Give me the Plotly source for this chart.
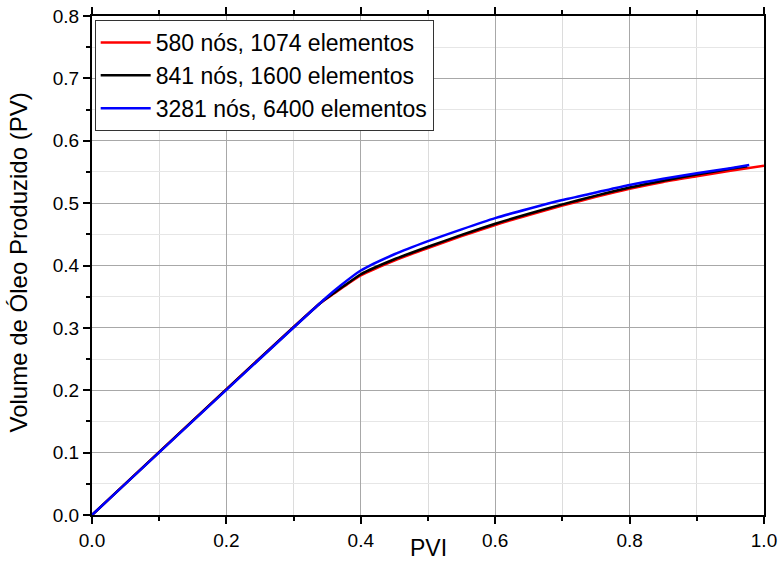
import plotly.graph_objects as go

# Oil recovery curves for three mesh refinements
pvi_580 = [0.0, 0.34, 0.36, 0.38, 0.40, 0.45, 0.50, 0.55, 0.60, 0.65, 0.70, 0.75, 0.80, 0.85, 0.90, 0.95, 1.00]
vol_580 = [0.0, 0.340, 0.355, 0.370, 0.384, 0.408, 0.428, 0.447, 0.465, 0.481, 0.496, 0.510, 0.523, 0.534, 0.543, 0.552, 0.560]

pvi_841 = [0.0, 0.34, 0.36, 0.38, 0.40, 0.45, 0.50, 0.55, 0.60, 0.65, 0.70, 0.75, 0.80, 0.85, 0.90, 0.95, 0.975]
vol_841 = [0.0, 0.340, 0.356, 0.371, 0.386, 0.410, 0.430, 0.449, 0.467, 0.483, 0.498, 0.512, 0.525, 0.536, 0.546, 0.555, 0.559]

pvi_3281 = [0.0, 0.35, 0.37, 0.40, 0.45, 0.50, 0.55, 0.60, 0.65, 0.70, 0.75, 0.80, 0.85, 0.90, 0.95, 0.978]
vol_3281 = [0.0, 0.350, 0.368, 0.392, 0.418, 0.439, 0.458, 0.476, 0.491, 0.505, 0.517, 0.529, 0.539, 0.548, 0.556, 0.561]

series_names = ["580 nós, 1074 elementos", "841 nós, 1600 elementos", "3281 nós, 6400 elementos"]
series_colors = ["#ff0000", "#000000", "#0000ff"]

fig = go.Figure()
for xs, ys, name, color in zip([pvi_580, pvi_841, pvi_3281],
                               [vol_580, vol_841, vol_3281],
                               series_names, series_colors):
    fig.add_trace(go.Scatter(x=xs, y=ys, mode="lines", name=name,
                             line=dict(color=color, width=2.5, shape="spline", smoothing=0.6)))

font = "Liberation Sans, Arial, sans-serif"
fig.update_layout(
    width=779, height=561,
    margin=dict(l=92, r=15, t=16, b=46),
    plot_bgcolor="white", paper_bgcolor="white",
    font=dict(family=font, color="black"),
    showlegend=True,
    legend=dict(x=0.004, y=0.992, xanchor="left", yanchor="top",
                bgcolor="white", bordercolor="#333333", borderwidth=1,
                font=dict(size=23, family=font), tracegroupgap=0,
                itemwidth=50),
)
fig.update_xaxes(
    range=[0, 1.0], tick0=0, dtick=0.2, tickformat=".1f", automargin=False,
    showline=True, linecolor="black", linewidth=2, mirror="ticks",
    ticks="outside", ticklen=7, tickwidth=2, tickcolor="black",
    tickfont=dict(size=19),
    showgrid=True, gridcolor="#a8a8a8", gridwidth=1,
    minor=dict(dtick=0.1, ticks="outside", ticklen=4, tickwidth=2, tickcolor="black",
               showgrid=True, gridcolor="#dcdcdc", gridwidth=1),
    zeroline=False,
)
fig.update_yaxes(
    range=[0, 0.8], tick0=0, dtick=0.1, tickformat=".1f", automargin=False,
    showline=True, linecolor="black", linewidth=2, mirror=True,
    ticks="outside", ticklen=7, tickwidth=2, tickcolor="black",
    tickfont=dict(size=19),
    showgrid=True, gridcolor="#a8a8a8", gridwidth=1,
    minor=dict(dtick=0.05, ticks="outside", ticklen=4, tickwidth=2, tickcolor="black",
               showgrid=True, gridcolor="#e6e6e6", gridwidth=1),
    zeroline=False,
)

# Axis titles
fig.add_annotation(text="PVI", xref="paper", yref="paper", x=0.5, y=0,
                   xanchor="center", yanchor="middle", yshift=-33,
                   showarrow=False, font=dict(size=23, family=font))
fig.add_annotation(text="Volume de Óleo Produzido (PV)", xref="paper", yref="paper",
                   x=0, y=0.5, xanchor="center", yanchor="middle", xshift=-74, yshift=3,
                   textangle=-90, showarrow=False, font=dict(size=24, family=font))

fig.write_html("out.html")
